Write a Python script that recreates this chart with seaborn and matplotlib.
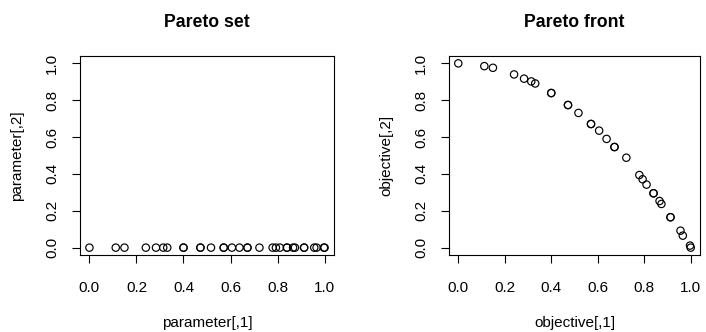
import numpy as np
import pandas as pd
import matplotlib
matplotlib.use("Agg")
import matplotlib.pyplot as plt
import seaborn as sns

# Werte
param1 = [0.0, 0.112, 0.149, 0.240, 0.283, 0.314, 0.331, 0.400, 0.400, 0.472, 0.472,
          0.517, 0.571, 0.571, 0.606, 0.638, 0.672, 0.672, 0.723, 0.779, 0.793, 0.810,
          0.840, 0.840, 0.866, 0.874, 0.913, 0.913, 0.956, 0.966, 0.997, 1.0]
param2 = [0.0] * len(param1)
obj1 = list(param1)
obj2 = [1.0, 0.985, 0.976, 0.940, 0.917, 0.902, 0.891, 0.839, 0.839, 0.774, 0.774,
        0.731, 0.671, 0.671, 0.635, 0.590, 0.546, 0.546, 0.488, 0.394, 0.371, 0.342,
        0.295, 0.295, 0.253, 0.237, 0.165, 0.165, 0.092, 0.065, 0.011, 0.0]
ticks = [0.0, 0.2, 0.4, 0.6, 0.8, 1.0]
tick_labels = ["0.0", "0.2", "0.4", "0.6", "0.8", "1.0"]

sns.set_style("white")
plt.rcParams['font.family'] = ['Liberation Sans', 'DejaVu Sans']
plt.rcParams['text.color'] = 'black'
plt.rcParams['axes.labelcolor'] = 'black'

set_df = pd.DataFrame({"x": param1, "y": param2})
front_df = pd.DataFrame({"x": obj1, "y": obj2})

fig = plt.figure(figsize=(7.06, 3.32), dpi=100)
ax1 = fig.add_axes([80 / 706, 77 / 332, 254 / 706, 199 / 332])
ax2 = fig.add_axes([449 / 706, 77 / 332, 251 / 706, 199 / 332])

panels = [
    (ax1, set_df, "Pareto set", "parameter[,1]", "parameter[,2]"),
    (ax2, front_df, "Pareto front", "objective[,1]", "objective[,2]"),
]

for ax, df, title, xl, yl in panels:
    sns.scatterplot(data=df, x="x", y="y", ax=ax, marker="o", s=28,
                    facecolor="none", edgecolor="black", linewidth=0.85)
    ax.set_xlim(-0.04, 1.04)
    ax.set_ylim(-0.04, 1.04)
    ax.set_xticks(ticks)
    ax.set_xticklabels(tick_labels)
    ax.set_yticks(ticks)
    ax.set_yticklabels(tick_labels, rotation=90, va="center")
    ax.tick_params(direction="out", length=6, width=0.8, colors="black",
                   labelsize=11, bottom=True, left=True)
    ax.tick_params(axis="x", pad=12.5)
    ax.tick_params(axis="y", pad=9)
    for sp in ax.spines.values():
        sp.set_color("black")
        sp.set_linewidth(0.8)
    ax.set_title(title, fontsize=12.7, fontweight="bold", pad=21)
    ax.set_xlabel(xl, fontsize=11, labelpad=15.5)
    ax.set_ylabel(yl, fontsize=11, labelpad=15)

fig.savefig("out.png", dpi=100)
